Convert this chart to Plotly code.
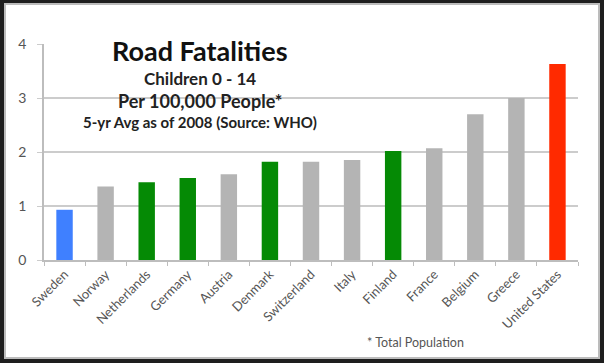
import plotly.graph_objects as go

countries = ["Sweden", "Norway", "Netherlands", "Germany", "Austria", "Denmark",
             "Switzerland", "Italy", "Finland", "France", "Belgium", "Greece", "United States"]
values = [0.93, 1.36, 1.44, 1.52, 1.59, 1.82, 1.82, 1.85, 2.02, 2.07, 2.70, 3.00, 3.63]
colors = ["#3f80ff", "#b4b4b4", "#058a05", "#058a05", "#b4b4b4", "#058a05",
          "#b4b4b4", "#b4b4b4", "#058a05", "#b4b4b4", "#b4b4b4", "#b4b4b4", "#ff2a00"]
y_ticks = [0, 1, 2, 3, 4]

W, H = 604, 363
L, R, T, B = 44, 578, 44, 260

def px(x):
    return (x - L) / (R - L)

def py(y):
    return (B - y) / (B - T)

fig = go.Figure(go.Bar(x=countries, y=values, marker=dict(color=colors, line=dict(width=0)),
                       width=0.4, hoverinfo="x+y"))

font = "Lato, 'Open Sans', sans-serif"

def ann(text, x, y, size, color="#222222"):
    return dict(text=text, x=px(x), y=py(y), xref="paper", yref="paper",
                xanchor="center", yanchor="middle", showarrow=False,
                font=dict(size=size, color=color, family=font))

fig.update_layout(
    width=W, height=H,
    margin=dict(l=L, r=W - R, t=T, b=H - B),
    paper_bgcolor="#1e1e1e",
    plot_bgcolor="rgba(0,0,0,0)",
    showlegend=False,
    font=dict(family=font, color="#555555"),
    xaxis=dict(
        tickangle=-45, tickfont=dict(size=13, color="#555555"),
        showline=True, linecolor="#bdbdbd", linewidth=1.5,
        ticks="outside", tickson="boundaries", ticklen=4, tickcolor="#bdbdbd",
        showgrid=False, range=[-0.5, 12.5],
    ),
    yaxis=dict(
        range=[0, 4], tickvals=y_ticks, tickfont=dict(size=14, color="#555555"),
        showgrid=True, gridcolor="#cccccc", gridwidth=1.5,
        showline=True, linecolor="#bdbdbd", linewidth=1.5,
        ticks="outside", ticklen=5, tickcolor="#cccccc", ticklabelstandoff=8,
        zeroline=False,
    ),
    shapes=[
        dict(type="rect", xref="paper", yref="paper", layer="below",
             x0=px(4), x1=px(600), y0=py(359), y1=py(3),
             fillcolor="#bcbcbc", line=dict(width=0)),
        dict(type="rect", xref="paper", yref="paper", layer="below",
             x0=px(6), x1=px(598), y0=py(357), y1=py(5),
             fillcolor="white", line=dict(width=0)),
    ],
    annotations=[
        ann("<b>Road Fatalities</b>", 200, 50, 27, "#111111"),
        ann("<b>Children 0 - 14</b>", 200, 78, 17),
        ann("<b>Per 100,000 People*</b>", 200, 101, 18),
        ann("<b>5-yr Avg as of 2008 (Source: WHO)</b>", 200, 122, 15),
        ann("* Total Population", 415, 342, 12.5, "#555555"),
    ],
)

fig.write_html("out.html", config={"displayModeBar": False},
               post_script="document.body.style.margin='0px';")
